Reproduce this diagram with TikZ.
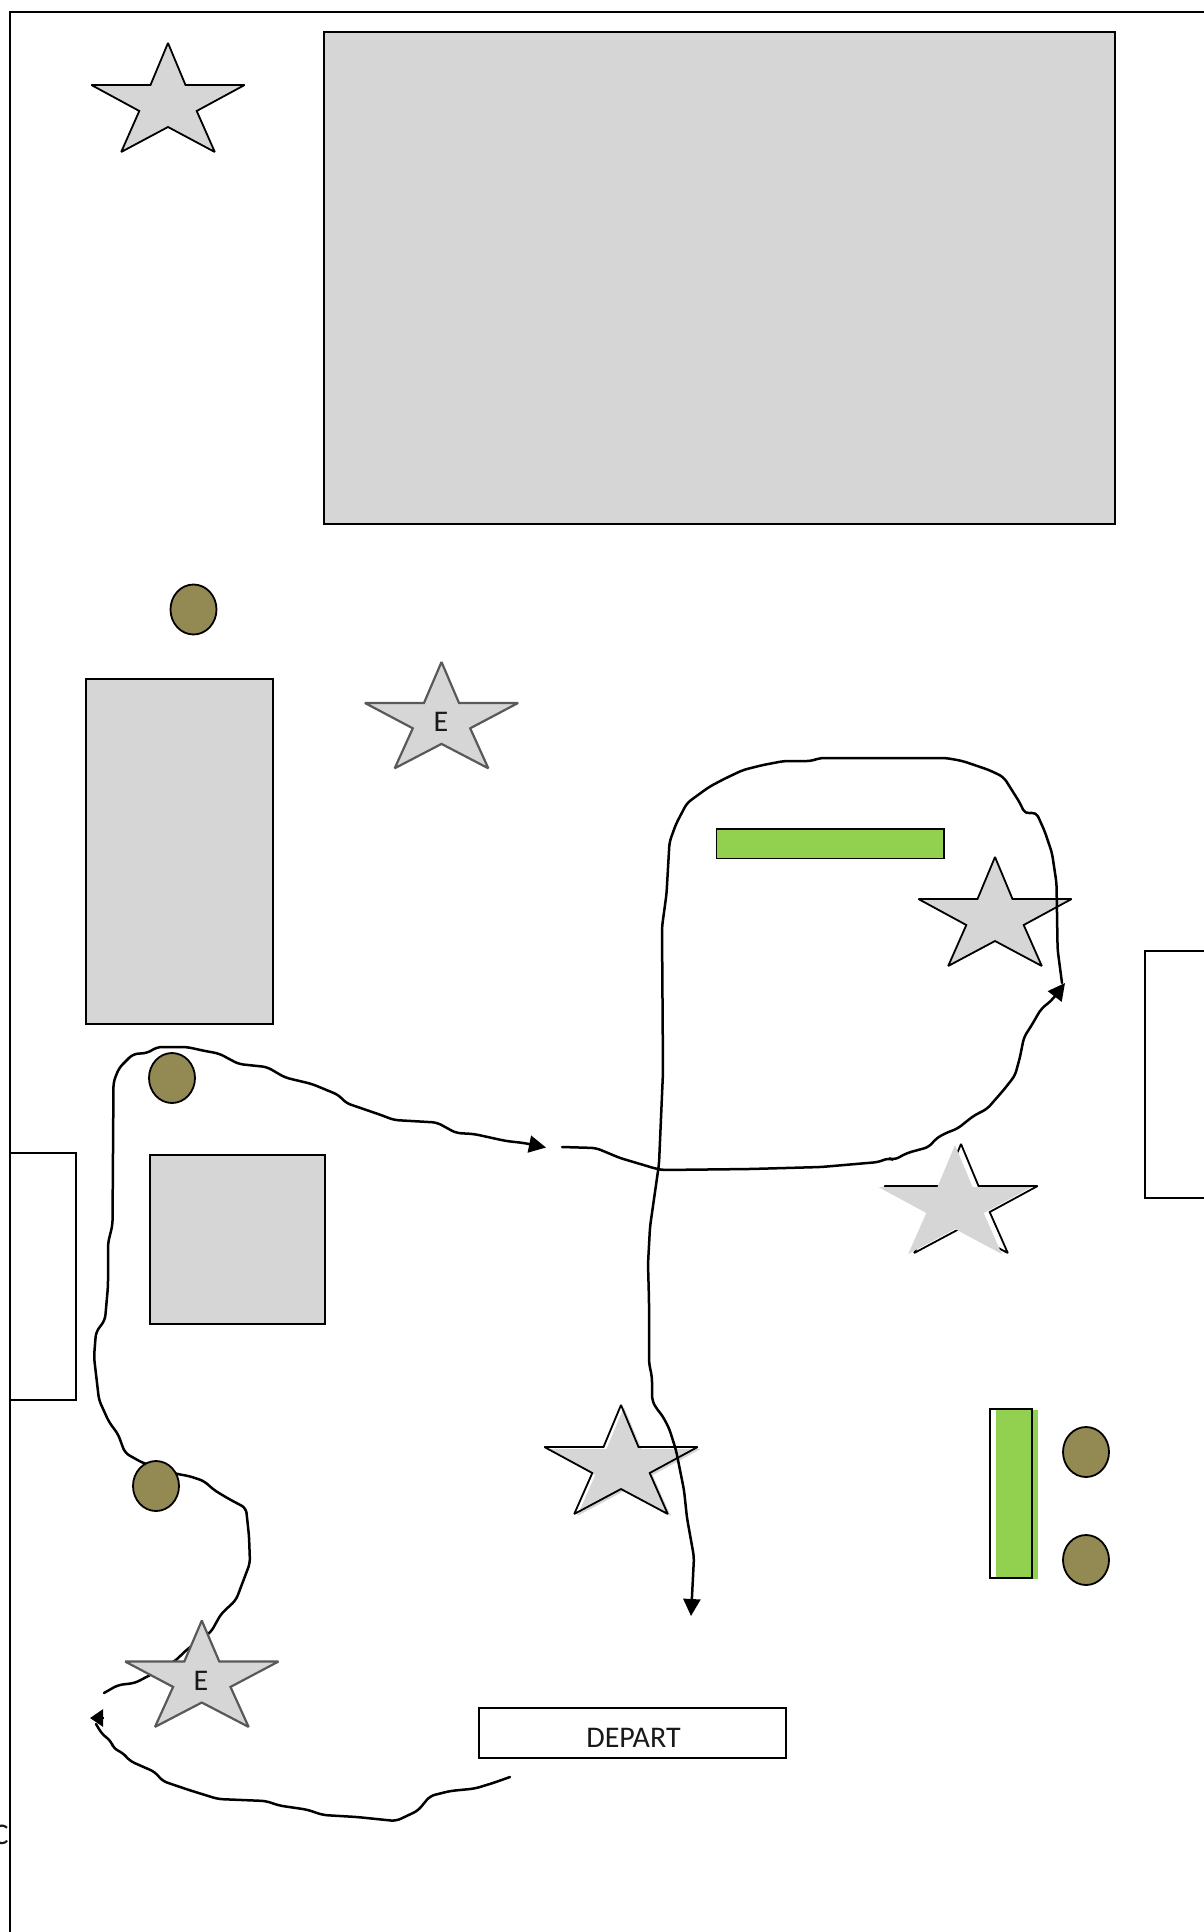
\documentclass[tikz,border=0pt]{standalone}
\usepackage{fontspec}
\setmainfont{Carlito}
\usetikzlibrary{arrows.meta}
\definecolor{blockgray}{HTML}{D6D6D6}
\definecolor{hedge}{HTML}{92D050}
\definecolor{tree}{HTML}{938953}
\tikzset{
  block/.style={draw=black,line width=1pt,fill=blockgray},
  openbox/.style={draw=black,line width=1pt,fill=white},
  hedgebox/.style={draw=black,line width=.9pt,fill=hedge},
  treeshape/.style={draw=black,line width=.9pt,fill=tree},
  route/.style={draw=black,line width=1.25pt,line join=round,line cap=round,rounded corners=2.5pt},
  routearrow/.style={route,-{Triangle[length=8.5pt,width=8.5pt]}},
  shortarrow/.style={draw=black,line width=1.25pt,-{Triangle[length=6.5pt,width=8.5pt]}},
  starline/.style={draw=black,line width=.9pt,miter limit=2},
  stargray/.style={draw=black!65,line width=1.1pt,miter limit=2,fill=blockgray,yscale=.975},
  label/.style={font=\fontsize{15pt}{16pt}\selectfont,inner sep=0pt,text=black!90}
}
\newcommand\starat[3]{%
  \path[shift={(#1,#2)},#3] (0,0) -- (17.5,42) -- (76.6,42) -- (28.7,68) -- (46.8,109)
    -- (0,84) -- (-46.8,109) -- (-28.7,68) -- (-76.6,42) -- (-17.5,42) -- cycle;}
\begin{document}
\begin{tikzpicture}[x=0.5pt,y=-0.5pt]
\clip (0,0) rectangle (1204,1932);
\fill[white] (0,0) rectangle (1204,1932);
% frame
\draw[line width=1pt] (1204,12) -- (10,12) -- (10,1932);
% blocks
\draw[block] (324,32.5) rectangle (1115,524);
\draw[block] (86,679) rectangle (273,1023.5);
\draw[block] (150,1155) rectangle (325,1324);
\draw[openbox] (10,1153) rectangle (75.5,1400);
\draw[openbox] (1145,950.5) rectangle (1210,1198);
\draw[openbox] (479,1708) rectangle (786,1758);
\node[label] (depart) at (633.5,1738) {DEPART};
\node[label,anchor=east] (edgeC) at (9,1834.5) {C};
% hedges
\draw[hedgebox] (716.5,829) rectangle (944,858.5);
\fill[hedge] (996,1410) rectangle (1038,1579);
\draw[line width=1pt] (990,1409) rectangle (1032,1578);
% stars under the routes
\starat{168}{43}{fill=blockgray,starline}
\starat{441.5}{662}{stargray}
\starat{995}{857}{fill=blockgray,starline}
\starat{961}{1144}{starline,fill=white}
\starat{955}{1145}{fill=blockgray}
\starat{624}{1407}{fill=blockgray}
\starat{621}{1405}{starline}
% routes
\draw[route]
 (510,1777) -- (493,1783) -- (475,1788.5) -- (450,1791) -- (430,1796) -- (418,1810.6) -- (396,1821)
 -- (357,1817) -- (323,1815) -- (307,1809.6) -- (279,1805.5) -- (266,1801) -- (218,1799) -- (189,1790)
 -- (162.5,1781) -- (155,1772) -- (130,1761) -- (123,1753) -- (113.6,1748.5) -- (111,1741) -- (102,1734) -- (96,1724);
\draw[shortarrow] (103.6,1718) -- (90,1718);
\draw[routearrow]
 (104,1693) -- (118,1685) -- (135,1683) -- (152,1674) -- (175,1661) -- (187.5,1649) -- (211,1632)
 -- (221,1614) -- (236,1600) -- (250,1563) -- (249,1536) -- (246,1508) -- (229,1499) -- (214,1490)
 -- (204,1481) -- (189,1476) -- (177,1474) -- (143,1463) -- (125,1453) -- (118,1434) -- (109,1422)
 -- (99,1400) -- (94,1357) -- (96,1332) -- (105,1320) -- (108,1286) -- (108,1243) -- (112.5,1225)
 -- (113.5,1082) -- (119,1068) -- (133,1054) -- (147.5,1053) -- (157,1047) -- (187,1047) -- (205,1051)
 -- (219,1053.5) -- (238.6,1064) -- (267,1067) -- (285,1077.5) -- (312,1084) -- (338.6,1095) -- (346,1103)
 -- (381,1115) -- (394,1120) -- (437,1122.5) -- (456,1133) -- (474,1134) -- (506,1141) -- (524,1143) -- (546,1147.5);
\draw[routearrow]
 (562,1147) -- (596,1148) -- (620,1158) -- (657,1169) -- (663,1170) -- (750,1169) -- (821,1167) -- (879,1162)
 -- (888,1158) -- (894,1160) -- (907,1153) -- (929,1147) -- (936.6,1138) -- (948,1132) -- (957,1129)
 -- (974,1115.5) -- (987,1109) -- (1003.6,1090) -- (1015,1075.5) -- (1020,1057) -- (1024,1037)
 -- (1031.5,1025.5) -- (1041,1009) -- (1052,1000) -- (1065,983);
\draw[routearrow]
 (1062,983) -- (1057.6,949.6) -- (1056.5,883) -- (1052,853) -- (1044.6,831) -- (1036,812)
 -- (1025,814) -- (1020,803) -- (1003.6,777) -- (989,770) -- (962.6,761) -- (946,758) -- (819,758)
 -- (812,761) -- (784,761) -- (763,765) -- (743,770) -- (724,779) -- (709,787) -- (687,803) -- (676,824)
 -- (669.5,842) -- (666.5,894) -- (662,927) -- (663,1072) -- (659,1164) -- (650,1227) -- (648,1264)
 -- (649,1300) -- (649,1363) -- (652,1377) -- (652,1400) -- (656,1408) -- (662,1415) -- (669,1428)
 -- (676,1450) -- (684,1490) -- (687,1518) -- (694,1557) -- (691,1616);
% star above the route
\starat{201.8}{1620.6}{stargray}
\node[label] (eTop) at (441,722) {E};
\node[label] (eLow) at (201,1681) {E};
% trees
\path[treeshape] (193.5,609.5) ellipse [x radius=23,y radius=25];
\path[treeshape] (172,1078) ellipse [x radius=23,y radius=25];
\path[treeshape] (156,1486) ellipse [x radius=23,y radius=25];
\path[treeshape] (1086,1452) ellipse [x radius=23,y radius=25];
\path[treeshape] (1086,1560) ellipse [x radius=23,y radius=25];
\end{tikzpicture}
\end{document}
